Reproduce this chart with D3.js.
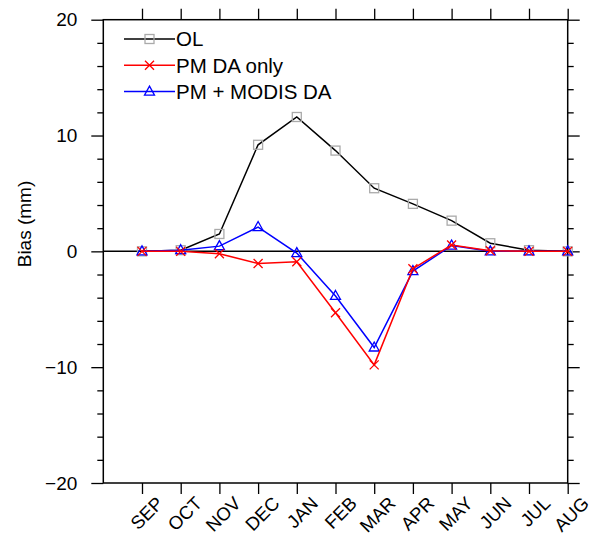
<!DOCTYPE html>
<html>
<head>
<meta charset="utf-8">
<script src="https://cdn.jsdelivr.net/npm/d3@7"></script>
<style>
  body { margin: 0; background: #fff; }
  text { font-family: "Liberation Sans", Arial, Helvetica, sans-serif; }
</style>
</head>
<body>
<script>
// monthly bias values
var months = ["SEP", "OCT", "NOV", "DEC", "JAN", "FEB", "MAR", "APR", "MAY", "JUN", "JUL", "AUG"];
var olBias = [0, 0.1, 1.5, 9.2, 11.6, 8.7, 5.45, 4.1, 2.65, 0.7, 0.1, 0];
var pmBias = [0, 0, -0.2, -1.05, -0.9, -5.3, -9.8, -1.5, 0.55, 0.05, 0, 0];
var modisBias = [0, 0.1, 0.45, 2.1, -0.15, -3.85, -8.3, -1.7, 0.5, 0, 0, 0];
var yMajor = [-20, -10, 0, 10, 20];
var yMinor = [-18, -16, -14, -12, -8, -6, -4, -2, 2, 4, 6, 8, 12, 14, 16, 18];
var seriesNames = ["OL", "PM DA only", "PM + MODIS DA"];

var w = 592;
var h = 534;
// plot frame edges (note: "top" is a reserved window property, so p-prefixed)
var pLeft = 103.3, pRight = 567.7, pTop = 19.7, pBottom = 483;

var svg = d3.select("body")
            .append("svg")
            .attr("width", w)
            .attr("height", h);

var xScale = d3.scaleLinear()
               .domain([0, 12])
               .range([pLeft, pRight]);

var yScale = d3.scaleLinear()
               .domain([-20, 20])
               .range([pBottom, pTop]);

// left axis: major with labels, minor ticks
var yAxis = svg.append("g")
   .attr("transform", "translate(" + pLeft + ",0)")
   .call(d3.axisLeft(yScale).tickValues(yMajor).tickSize(12).tickPadding(14));
yAxis.attr("font-family", null);
yAxis.selectAll("text").style("font-size", "19px").attr("fill", "#000");

svg.append("g")
   .attr("transform", "translate(" + pLeft + ",0)")
   .call(d3.axisLeft(yScale).tickValues(yMinor).tickSize(6).tickFormat(""));

// right mirror axis
svg.append("g")
   .attr("transform", "translate(" + pRight + ",0)")
   .call(d3.axisRight(yScale).tickValues(yMajor).tickSize(12).tickFormat(""));
svg.append("g")
   .attr("transform", "translate(" + pRight + ",0)")
   .call(d3.axisRight(yScale).tickValues(yMinor).tickSize(6).tickFormat(""));

// bottom axis with rotated month labels
var xAxis = svg.append("g")
   .attr("transform", "translate(0," + pBottom + ")")
   .call(d3.axisBottom(xScale)
           .tickValues(d3.range(1, 13))
           .tickSize(11)
           .tickFormat(function(d) { return months[d - 1]; }));
xAxis.attr("font-family", null);
xAxis.selectAll("text")
     .attr("y", 0)
     .attr("dy", null)
     .attr("text-anchor", "end")
     .attr("transform", "translate(22,21.5) rotate(-45)")
     .style("font-size", "18.5px")
     .attr("fill", "#000");

// top mirror axis
svg.append("g")
   .attr("transform", "translate(0," + pTop + ")")
   .call(d3.axisTop(xScale).tickValues(d3.range(1, 13)).tickSize(11).tickFormat(""));

svg.selectAll(".domain").remove();
svg.selectAll(".tick line").attr("stroke", "#000").attr("stroke-width", 1.3);

// frame
svg.append("rect")
   .attr("x", pLeft)
   .attr("y", pTop)
   .attr("width", pRight - pLeft)
   .attr("height", pBottom - pTop)
   .attr("fill", "none")
   .attr("stroke", "#000")
   .attr("stroke-width", 1.5);

// zero reference line
svg.append("line")
   .attr("x1", pLeft).attr("x2", pRight)
   .attr("y1", yScale(0)).attr("y2", yScale(0))
   .attr("stroke", "#000")
   .attr("stroke-width", 1.5);

// y label
svg.append("text")
   .attr("transform", "translate(31,224) rotate(-90)")
   .attr("text-anchor", "middle")
   .style("font-size", "19px")
   .text("Bias (mm)");

var line = d3.line()
             .x(function(d, i) { return xScale(i + 1); })
             .y(function(d) { return yScale(d); });

function square(g, x, y, c) {
  g.append("rect").attr("x", x - 4.5).attr("y", y - 4.5)
   .attr("width", 9).attr("height", 9)
   .attr("fill", "none").attr("stroke", c).attr("stroke-width", 1.3);
}
function cross(g, x, y, c) {
  g.append("path")
   .attr("d", "M" + (x - 4.5) + "," + (y - 4.5) + "L" + (x + 4.5) + "," + (y + 4.5) +
              "M" + (x - 4.5) + "," + (y + 4.5) + "L" + (x + 4.5) + "," + (y - 4.5))
   .attr("stroke", c).attr("stroke-width", 1.3);
}
function triangle(g, x, y, c) {
  g.append("path")
   .attr("d", "M" + x + "," + (y - 5.5) + "L" + (x + 5) + "," + (y + 3.5) + "L" + (x - 5) + "," + (y + 3.5) + "Z")
   .attr("fill", "none").attr("stroke", c).attr("stroke-width", 1.3);
}

var series = [
  { values: olBias, color: "#000", markColor: "#aaaaaa", mark: square },
  { values: modisBias, color: "#0000ff", markColor: "#0000ff", mark: triangle },
  { values: pmBias, color: "#ff0000", markColor: "#ff0000", mark: cross }
];

series.forEach(function(s) {
  var g = svg.append("g");
  g.append("path")
   .attr("d", line(s.values))
   .attr("fill", "none")
   .attr("stroke", s.color)
   .attr("stroke-width", 1.5);
  s.values.forEach(function(v, i) {
    s.mark(g, xScale(i + 1), yScale(v), s.markColor);
  });
});

// legend
var legendItems = [series[0], series[2], series[1]];
legendItems.forEach(function(s, i) {
  var y = 39 + i * 26.3;
  var g = svg.append("g");
  g.append("line")
   .attr("x1", 124).attr("x2", 175)
   .attr("y1", y).attr("y2", y)
   .attr("stroke", s.color).attr("stroke-width", 1.5);
  s.mark(g, 149.5, y, s.markColor);
  g.append("text")
   .attr("x", 176)
   .attr("y", y)
   .attr("dy", "0.36em")
   .style("font-size", "20.5px")
   .text(seriesNames[i]);
});
</script>
</body>
</html>
